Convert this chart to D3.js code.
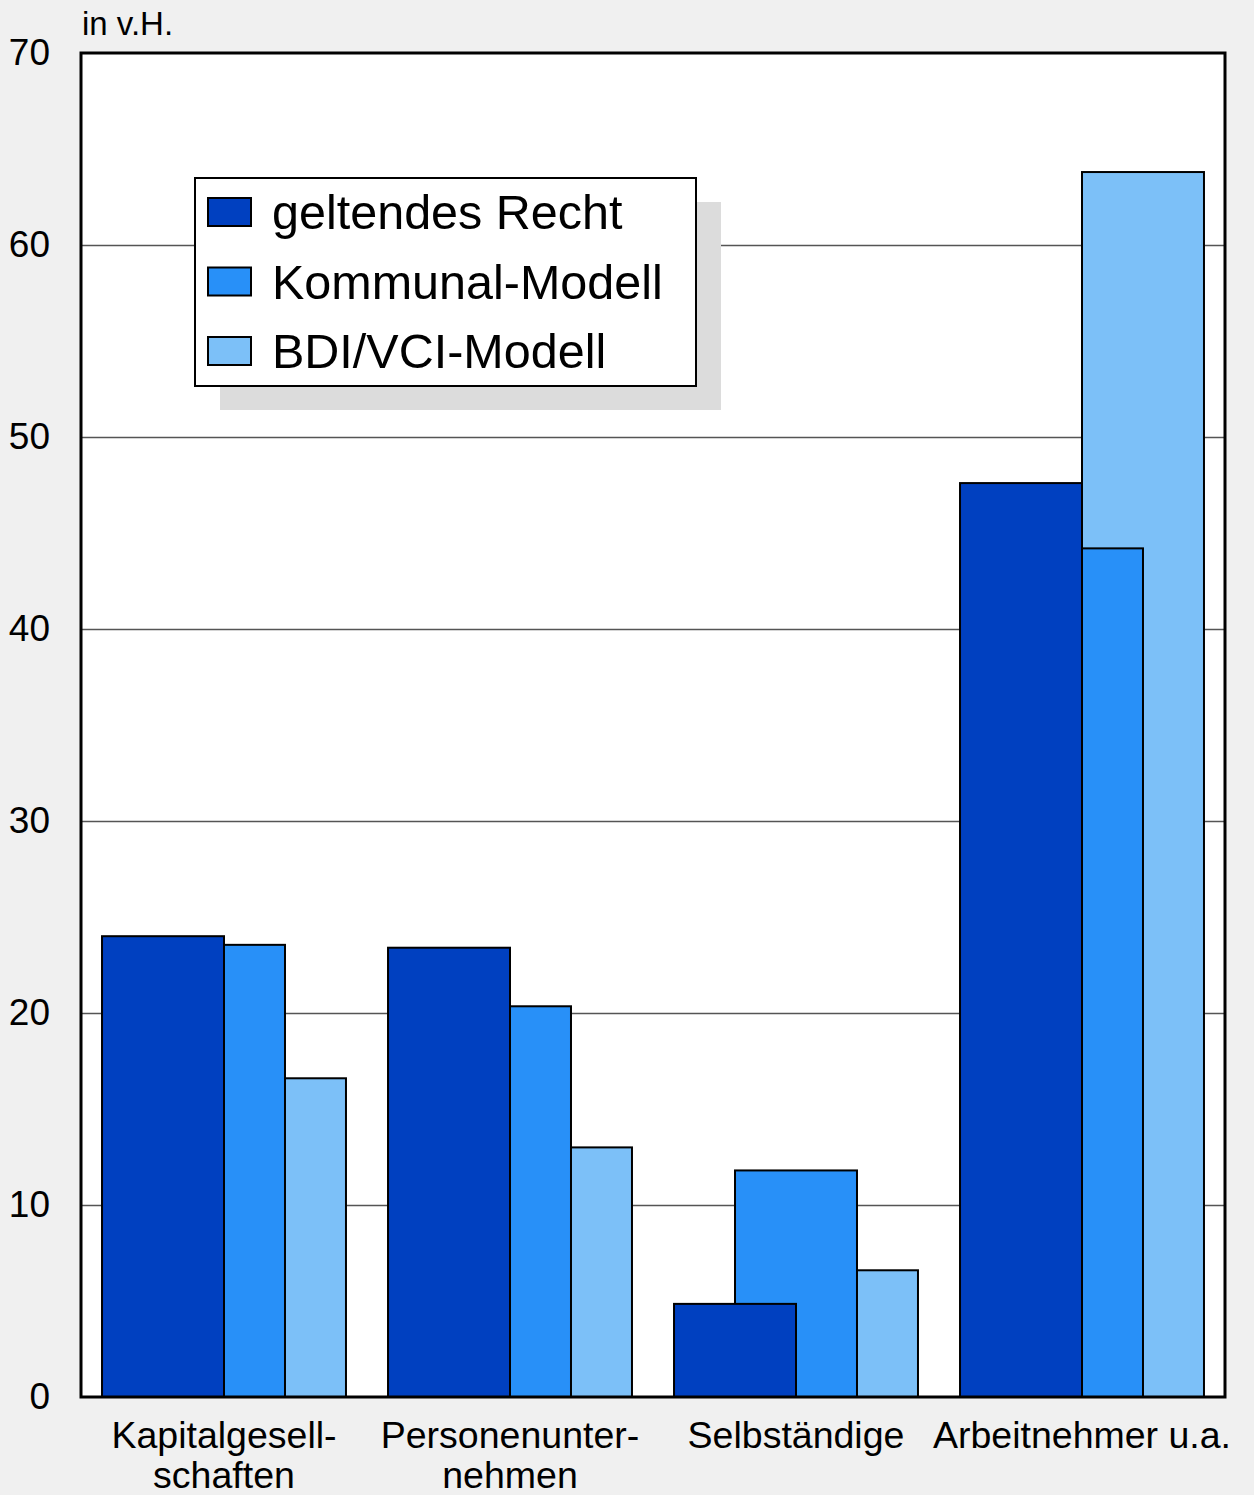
<!DOCTYPE html>
<html lang="de">
<head>
<meta charset="UTF-8">
<title>Steuerbelastung nach Modellen</title>
<script src="https://d3js.org/d3.v7.min.js"></script>
<style>
    body { margin: 0; background: #f0f0f0; }
    svg { display: block; font-family: "Liberation Sans", Arial, sans-serif; }
    .grid line { stroke: #555; stroke-width: 1.5; }
    .grid path { display: none; }
    .yaxis path, .yaxis line { display: none; }
    .yaxis text { font-size: 37px; fill: #000; font-family: "Liberation Sans", Arial, sans-serif; }
</style>
</head>
<body>
<svg id="chart" width="1254" height="1495"></svg>
<script>
// Daten
const categories = [["Kapitalgesell-", "schaften"], ["Personenunter-", "nehmen"], ["Selbständige"], ["Arbeitnehmer u.a."]];
const seriesNames = ["geltendes Recht", "Kommunal-Modell", "BDI/VCI-Modell"];
const geltendesRecht = [24.0, 23.4, 4.85, 47.6];
const kommunalModell = [23.55, 20.35, 11.8, 44.2];
const bdiVciModell = [16.6, 13.0, 6.6, 63.8];
const yTicks = [0, 10, 20, 30, 40, 50, 60, 70];
const colors = ["#0040c0", "#2890f8", "#7cc0f8"];

const series = [geltendesRecht, kommunalModell, bdiVciModell];

const svg = d3.select("#chart");
const plotLeft = 81, plotRight = 1225, plotTop = 53, plotBottom = 1397;

const x = d3.scaleBand()
    .domain(d3.range(categories.length))
    .range([plotLeft, plotRight])
    .paddingInner(0.147)
    .paddingOuter(0.0735);

const y = d3.scaleLinear()
    .domain([0, 70])
    .range([plotBottom, plotTop]);

// Zeichenfläche
svg.append("rect")
    .attr("x", plotLeft).attr("y", plotTop)
    .attr("width", plotRight - plotLeft).attr("height", plotBottom - plotTop)
    .attr("fill", "#fff");

// Gitterlinien
svg.append("g")
    .attr("class", "grid")
    .attr("transform", `translate(${plotLeft},0)`)
    .call(d3.axisLeft(y).tickValues(yTicks.filter(t => t > 0 && t < 70)).tickSize(-(plotRight - plotLeft)).tickFormat(""));

// Balken: jeder Balken ist halb so breit wie die Gruppe, um ein Viertel versetzt
const sub = x.bandwidth() / 4;
for (let s = series.length - 1; s >= 0; s--) {
    svg.append("g")
        .selectAll("rect")
        .data(series[s])
        .enter().append("rect")
        .attr("x", (d, i) => x(i) + s * sub)
        .attr("y", d => y(d))
        .attr("width", sub * 2)
        .attr("height", d => y(0) - y(d))
        .attr("fill", colors[s])
        .attr("stroke", "#000")
        .attr("stroke-width", 2);
}

// Rahmen
svg.append("rect")
    .attr("x", plotLeft).attr("y", plotTop)
    .attr("width", plotRight - plotLeft).attr("height", plotBottom - plotTop)
    .attr("fill", "none")
    .attr("stroke", "#000")
    .attr("stroke-width", 3);

// y-Achse
svg.append("g")
    .attr("class", "yaxis")
    .attr("transform", `translate(${plotLeft},0)`)
    .call(d3.axisLeft(y).tickValues(yTicks).tickSize(0).tickPadding(31));

svg.append("text")
    .attr("x", 82).attr("y", 35)
    .attr("font-size", 33)
    .text("in v.H.");

// x-Beschriftung
const labels = svg.append("g").attr("font-size", 37.5).attr("text-anchor", "middle");
categories.forEach((lines, i) => {
    lines.forEach((line, j) => {
        labels.append("text")
            .attr("x", x(i) + x.bandwidth() / 2)
            .attr("y", 1448 + j * 40)
            .text(line);
    });
});

// Legende
const lg = svg.append("g").attr("transform", "translate(195,178)");
lg.append("rect").attr("x", 25).attr("y", 24).attr("width", 501).attr("height", 208).attr("fill", "#dcdcdc");
lg.append("rect").attr("width", 501).attr("height", 208).attr("fill", "#fff").attr("stroke", "#000").attr("stroke-width", 2);
seriesNames.forEach((name, i) => {
    const cy = 34 + i * 69.5;
    lg.append("rect")
        .attr("x", 13).attr("y", cy - 14)
        .attr("width", 43).attr("height", 28)
        .attr("fill", colors[i])
        .attr("stroke", "#000").attr("stroke-width", 2);
    lg.append("text")
        .attr("x", 77).attr("y", cy + 17)
        .attr("font-size", 48.5)
        .text(name);
});
</script>
</body>
</html>
